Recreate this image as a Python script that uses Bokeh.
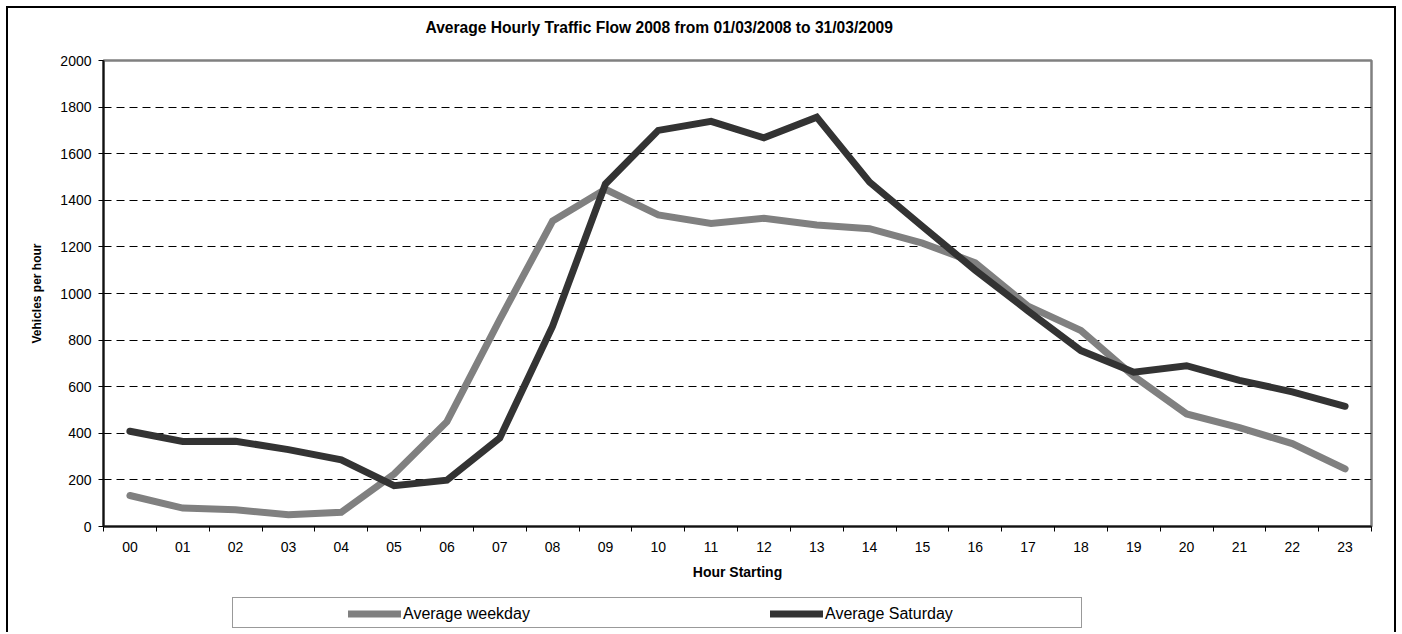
from bokeh.plotting import figure
from bokeh.models import FixedTicker, Legend, LegendItem, Range1d, Title
from bokeh.layouts import column
from bokeh.embed import file_html
from bokeh.resources import INLINE
import numpy as np

hours = ["00", "01", "02", "03", "04", "05", "06", "07", "08", "09", "10", "11",
         "12", "13", "14", "15", "16", "17", "18", "19", "20", "21", "22", "23"]
weekday = [133, 79, 72, 50, 61, 225, 450, 888, 1311, 1447, 1337, 1301,
           1323, 1294, 1278, 1216, 1132, 946, 841, 645, 483, 424, 356, 247]
saturday = [409, 365, 366, 330, 286, 175, 199, 380, 860, 1470, 1700, 1739,
            1668, 1757, 1478, 1288, 1100, 925, 755, 662, 690, 627, 578, 516]
y_ticks = [0, 200, 400, 600, 800, 1000, 1200, 1400, 1600, 1800, 2000]
series_names = ["Average weekday", "Average Saturday"]
series_colors = ["#808080", "#333333"]
title_text = "Average Hourly Traffic Flow 2008 from 01/03/2008 to 31/03/2009"

FONT = "Liberation Sans"
x = np.arange(len(hours)) + 0.5

p = figure(width=1390, height=582, output_backend="svg", toolbar_location=None,
           x_range=Range1d(0, len(hours)), y_range=Range1d(y_ticks[0], y_ticks[-1]),
           min_border_left=95, min_border_right=27, min_border_top=52,
           min_border_bottom=64)
p.styles = {"border-left": "2px solid black", "border-right": "2px solid black",
            "border-top": "2px solid black"}
p.background_fill_color = "white"
p.border_fill_color = "white"
p.outline_line_color = "#808080"
p.outline_line_width = 2.5

# spacer (closest to frame) then the real title above it
p.add_layout(Title(text="\u00a0", text_font_size="10px", standoff=10), "above")
p.add_layout(Title(text=title_text, align="left", offset=322, standoff=4,
                   text_font=FONT, text_font_size="15.6px",
                   text_font_style="bold", text_color="black"), "above")

r1 = p.line(x, weekday, line_color=series_colors[0], line_width=7,
            line_cap="round", line_join="miter")
r2 = p.line(x, saturday, line_color=series_colors[1], line_width=7,
            line_cap="round", line_join="miter")

# x axis
xa = p.xaxis[0]
xa.ticker = FixedTicker(ticks=list(x), minor_ticks=list(range(len(hours) + 1)))
xa.major_label_overrides = {float(xi): h for xi, h in zip(x, hours)}
xa.major_tick_out = 0
xa.major_tick_in = 0
xa.minor_tick_out = 5
xa.minor_tick_in = 0
xa.minor_tick_line_color = "black"
xa.axis_line_color = "#111111"
xa.axis_line_width = 2
xa.major_label_text_font = FONT
xa.major_label_text_font_size = "14px"
xa.major_label_text_color = "black"
xa.major_label_standoff = 10
xa.axis_label = "Hour Starting"
xa.axis_label_text_font = FONT
xa.axis_label_text_font_size = "14px"
xa.axis_label_text_font_style = "bold"
xa.axis_label_text_color = "black"
xa.axis_label_standoff = 9

# y axis
ya = p.yaxis[0]
ya.ticker = FixedTicker(ticks=y_ticks)
ya.major_tick_out = 5
ya.major_tick_in = 0
ya.minor_tick_out = 0
ya.minor_tick_in = 0
ya.major_tick_line_color = "black"
ya.axis_line_color = "#111111"
ya.axis_line_width = 2
ya.major_label_text_font = FONT
ya.major_label_text_font_size = "14px"
ya.major_label_text_color = "black"
ya.major_label_standoff = 7
ya.axis_label = "Vehicles per hour"
ya.axis_label_text_font = FONT
ya.axis_label_text_font_size = "12px"
ya.axis_label_text_font_style = "bold"
ya.axis_label_text_color = "black"
ya.axis_label_standoff = 13

p.xgrid.visible = False
p.ygrid.ticker = FixedTicker(ticks=y_ticks[1:-1])
p.ygrid.grid_line_color = "black"
p.ygrid.grid_line_dash = "8 5"
p.ygrid.grid_line_width = 1

# legend strip (its lines lie outside its own view; only legend glyphs show)
q = figure(width=1390, height=44, output_backend="svg", toolbar_location=None,
           x_range=Range1d(0, len(hours)), y_range=Range1d(-2, -1),
           x_axis_location=None, y_axis_location=None, min_border=0)
q.styles = {"border-left": "2px solid black", "border-right": "2px solid black"}
q.background_fill_color = "white"
q.border_fill_color = "white"
q.outline_line_color = None
q.xgrid.visible = False
q.ygrid.visible = False

lw = q.line(x, weekday, line_color=series_colors[0], line_width=7, line_cap="round")
ls = q.line(x, saturday, line_color=series_colors[1], line_width=7, line_cap="round")
blank = q.line(x, weekday, line_alpha=0)

box = Legend(items=[LegendItem(label="\u00a0", renderers=[blank])],
             location=(129, 4), padding=5, glyph_width=20, glyph_height=19,
             label_height=19, label_width=818, label_standoff=0,
             label_text_font_size="10px",
             border_line_color="#333333", border_line_width=1.5,
             background_fill_color="white", background_fill_alpha=1, margin=0)
q.add_layout(box, "center")

leg = Legend(items=[LegendItem(label=series_names[0], renderers=[lw]),
                    LegendItem(label=series_names[1], renderers=[ls])],
             orientation="horizontal", location=(245, 9), padding=0,
             spacing=117, glyph_width=53, glyph_height=19, label_height=19,
             label_width=250, label_standoff=2,
             label_text_font=FONT, label_text_font_size="16px",
             label_text_color="black", border_line_alpha=0,
             background_fill_alpha=0, margin=0)
q.add_layout(leg, "center")

layout = column(p, q, spacing=0)
layout.margin = (6, 0, 0, 6)
open("out.html", "w").write(file_html(layout, INLINE))
